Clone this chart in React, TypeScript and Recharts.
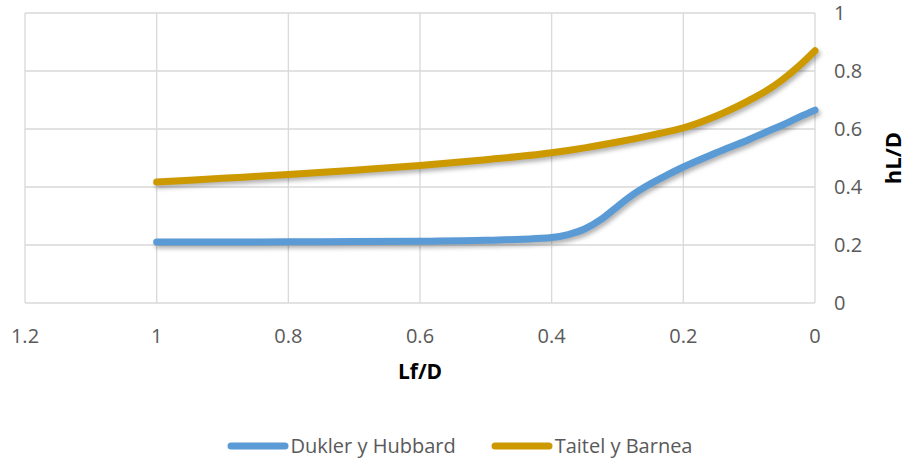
import { LineChart, Line, XAxis, YAxis, CartesianGrid, Legend } from "recharts";

// Lf/D positions (x axis runs right to left)
const lfD = [1, 0.9, 0.8, 0.7, 0.6, 0.5, 0.4, 0.375, 0.35, 0.325, 0.3, 0.275, 0.25, 0.225, 0.2, 0.15, 0.1, 0.075, 0.05, 0.025, 0];

// hL/D for each model
const duklerHubbard = [0.21, 0.21, 0.211, 0.212, 0.213, 0.216, 0.226, 0.236, 0.255, 0.288, 0.333, 0.376, 0.411, 0.441, 0.469, 0.518, 0.564, 0.589, 0.613, 0.64, 0.665];
const taitelBarnea = [0.417, 0.43, 0.443, 0.458, 0.474, 0.494, 0.518, 0.526, 0.535, 0.545, 0.555, 0.566, 0.578, 0.59, 0.604, 0.645, 0.699, 0.73, 0.769, 0.816, 0.87];

const xTicks = [0, 0.2, 0.4, 0.6, 0.8, 1, 1.2];
const yTicks = [0, 0.2, 0.4, 0.6, 0.8, 1];

const seriesNames = ["Dukler y Hubbard", "Taitel y Barnea"];
const seriesColors = ["#5b9bd5", "#cc9a00"];

const data = lfD.map((x, i) => ({
  x,
  [seriesNames[0]]: duklerHubbard[i],
  [seriesNames[1]]: taitelBarnea[i],
}));

const FONT = "'Open Sans', sans-serif";

function LegendContent() {
  return (
    <div
      style={{
        display: "flex",
        justifyContent: "center",
        alignItems: "center",
        gap: 35,
        fontFamily: FONT,
        fontSize: 20,
        color: "#595959",
        paddingLeft: 12,
      }}
    >
      {seriesNames.map((name, i) => (
        <div key={name} style={{ display: "flex", alignItems: "center" }}>
          <svg width={62} height={10} style={{ marginRight: 2 }}>
            <line x1={4} y1={5} x2={58} y2={5} stroke={seriesColors[i]} strokeWidth={7} strokeLinecap="round" />
          </svg>
          <span>{name}</span>
        </div>
      ))}
    </div>
  );
}

function YLabel(props: any) {
  const vb = props.viewBox || {};
  const cx = vb.x + 77;
  const cy = vb.y + vb.height / 2;
  return (
    <text
      x={cx}
      y={cy}
      transform={`rotate(-90 ${cx} ${cy})`}
      textAnchor="middle"
      dominantBaseline="central"
      fontFamily={FONT}
      fontWeight="bold"
      fontSize={22}
      fill="#000"
    >
      hL/D
    </text>
  );
}

export default function App() {
  return (
    <div style={{ width: 907, height: 460, background: "#fff" }}>
      <style>{`
        body { margin: 0; }
        .recharts-line-curve { filter: drop-shadow(2px 3px 2px rgba(0,0,0,0.3)); }
      `}</style>
      <LineChart
        width={907}
        height={460}
        data={data}
        margin={{ top: 13, right: 0, left: 25, bottom: 77 }}
      >
        <CartesianGrid stroke="#d9d9d9" strokeWidth={1.3} />
        <XAxis
          dataKey="x"
          type="number"
          domain={[0, 1.2]}
          ticks={xTicks}
          reversed
          axisLine={false}
          tickLine={false}
          tickSize={0}
          tickMargin={26}
          height={80}
          tick={{ fill: "#595959", fontFamily: FONT, fontSize: 20 }}
          label={{
            value: "Lf/D",
            position: "insideTop",
            offset: 61,
            fill: "#000",
            fontFamily: FONT,
            fontWeight: "bold",
            fontSize: 21,
          }}
        />
        <YAxis
          orientation="right"
          type="number"
          domain={[0, 1]}
          ticks={yTicks}
          axisLine={false}
          tickLine={false}
          tickSize={0}
          tickMargin={19}
          width={92}
          tick={{ fill: "#595959", fontFamily: FONT, fontSize: 20, textAnchor: "start" }}
          label={<YLabel />}
        />
        <Legend
          layout="horizontal"
          verticalAlign="middle"
          align="center"
          wrapperStyle={{ top: 432, left: 0, width: 907 }}
          content={<LegendContent />}
        />
        {seriesNames.map((name, i) => (
          <Line
            key={name}
            type="monotone"
            dataKey={name}
            stroke={seriesColors[i]}
            strokeWidth={7}
            strokeLinecap="round"
            dot={false}
            activeDot={false}
            isAnimationActive={false}
          />
        ))}
      </LineChart>
    </div>
  );
}
